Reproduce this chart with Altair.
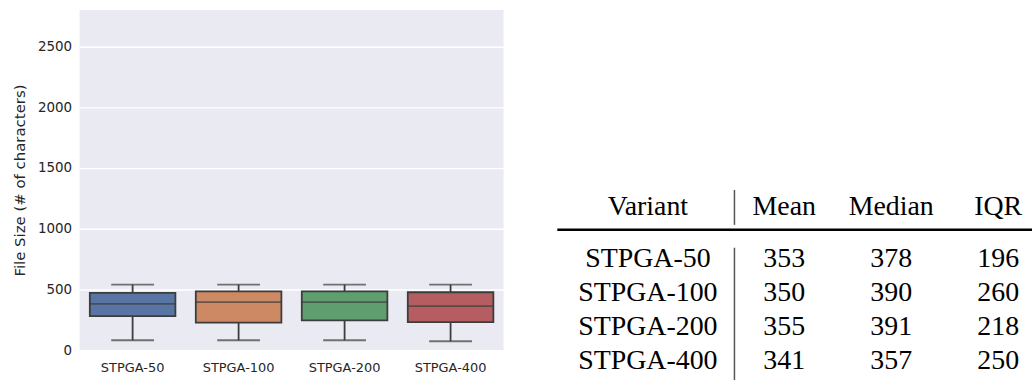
import altair as alt
import pandas as pd

# ---- box plot data ----
variants = ["STPGA-50", "STPGA-100", "STPGA-200", "STPGA-400"]
whisker_low = [82, 82, 82, 74]
q1 = [281, 227, 245, 232]
median = [382, 395, 395, 362]
q3 = [472, 485, 485, 477]
whisker_high = [540, 540, 540, 540]
box_colors = ["#5975a4", "#cc8963", "#5f9e6e", "#b55d60"]
y_ticks = [0, 500, 1000, 1500, 2000, 2500]

# ---- table data ----
table_headers = ["Variant", "Mean", "Median", "IQR"]
table_means = [353, 350, 355, 341]
table_medians = [378, 390, 391, 357]
table_iqrs = [196, 260, 218, 250]

box_df = pd.DataFrame({
    "variant": variants, "low": whisker_low, "q1": q1,
    "median": median, "q3": q3, "high": whisker_high,
})

LINE = "#3d3d3d"
TEXT = "#262626"
LW = 1.8

x_axis = alt.Axis(title=None, labelAngle=0, ticks=False, tickSize=0,
                  domain=False, grid=False, labelPadding=11,
                  labelFont="DejaVu Sans", labelFontSize=13, labelColor=TEXT)
y_axis = alt.Axis(title="File Size (# of characters)", values=y_ticks,
                  format="d", ticks=False, tickSize=0, domain=False, grid=True,
                  gridColor="white", gridWidth=1.4, labelPadding=8,
                  labelFont="DejaVu Sans", labelFontSize=13.5, labelColor=TEXT,
                  titleFont="DejaVu Sans", titleFontSize=15,
                  titleFontWeight="normal", titleColor=TEXT, titlePadding=10)
xscale = alt.Scale(domain=variants, paddingInner=0, paddingOuter=0)
yscale = alt.Scale(domain=[0, 2800], nice=False, zero=False)


def X():
    return alt.X("variant:N", sort=variants, scale=xscale, axis=x_axis)


def Y(field):
    return alt.Y(field, type="quantitative", scale=yscale, axis=y_axis)


base = alt.Chart(box_df)

whisk = base.mark_rule(color=LINE, strokeWidth=LW).encode(
    x=X(), y=Y("low"), y2="high:Q")
cap_low = base.mark_tick(color=LINE, thickness=LW, size=43).encode(
    x=X(), y=Y("low"))
cap_high = base.mark_tick(color=LINE, thickness=LW, size=43).encode(
    x=X(), y=Y("high"))
box = base.mark_bar(size=86, stroke=LINE, strokeWidth=LW, opacity=1).encode(
    x=X(), y=Y("q1"), y2="q3:Q",
    color=alt.Color("variant:N", sort=variants,
                    scale=alt.Scale(domain=variants, range=box_colors),
                    legend=None),
)
med = base.mark_tick(color=LINE, thickness=LW, size=86).encode(
    x=X(), y=Y("median"))

boxplot = alt.layer(whisk, cap_low, cap_high, box, med).properties(
    width=426, height=342,
    view=alt.ViewBackground(fill="#EAEAF2", strokeWidth=0))

# ---- table ----
rows = []
for v, m, md, iq in zip(variants, table_means, table_medians, table_iqrs):
    rows.append({"variant": v, "col": "Mean", "val": str(m)})
    rows.append({"variant": v, "col": "Median", "val": str(md)})
    rows.append({"variant": v, "col": "IQR", "val": str(iq)})
cell_df = pd.DataFrame(rows)
name_df = pd.DataFrame({"variant": variants})
head_df = pd.DataFrame({"col": table_headers[1:]})

SERIF = "Liberation Serif"
FS = 28
TW = 477
TH = 372

xcol = alt.X("col:N", sort=table_headers[1:],
             scale=alt.Scale(type="point", domain=table_headers[1:],
                             range=[228, 443], padding=0),
             axis=None)
yrow = alt.Y("variant:N", sort=variants,
             scale=alt.Scale(type="point", domain=variants,
                             range=[250, 353], padding=0),
             axis=None)

txt = dict(font=SERIF, fontSize=FS, color="black", baseline="middle",
           align="center")
cells = alt.Chart(cell_df).mark_text(**txt).encode(
    x=xcol, y=yrow, text="val:N")
names = alt.Chart(name_df).mark_text(**txt).encode(
    x=alt.value(91), y=yrow, text="variant:N")
heads = alt.Chart(head_df).mark_text(**txt).encode(
    x=xcol, y=alt.value(198.5), text="col:N")
head_variant = alt.Chart(pd.DataFrame({"h": [table_headers[0]]})).mark_text(
    **txt).encode(x=alt.value(91), y=alt.value(198.5), text="h:N")

one = pd.DataFrame({"a": [0]})
hline = alt.Chart(one).mark_rule(color="black", strokeWidth=2.5).encode(
    x=alt.value(0), x2=alt.value(TW), y=alt.value(221))
vline1 = alt.Chart(one).mark_rule(color="#555555", strokeWidth=1.5).encode(
    x=alt.value(178), y=alt.value(181), y2=alt.value(216))
vline2 = alt.Chart(one).mark_rule(color="#555555", strokeWidth=1.5).encode(
    x=alt.value(178), y=alt.value(239), y2=alt.value(TH))

table = alt.layer(hline, vline1, vline2, head_variant, heads, names, cells
                  ).properties(width=TW, height=TH,
                               view=alt.ViewBackground(strokeWidth=0)
                               ).resolve_scale(x="independent", y="independent")

chart = alt.hconcat(boxplot, table, spacing=52).properties(
    padding={"left": 12, "top": 9, "right": 0, "bottom": 0}
).configure_view(stroke=None)

chart.save("out.html", embed_options={"renderer": "svg", "actions": False})
